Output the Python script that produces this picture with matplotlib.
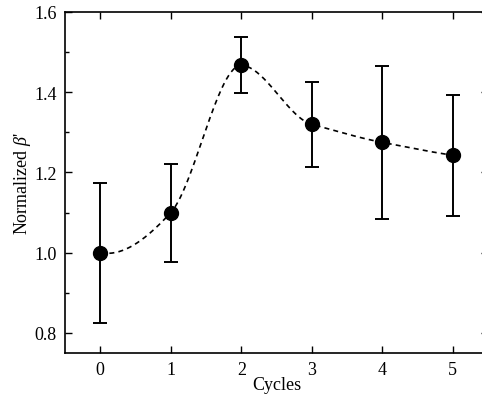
import numpy as np
import matplotlib.pyplot as plt
from matplotlib.ticker import MultipleLocator

plt.rcParams['font.family'] = ['Liberation Serif', 'DejaVu Serif']
plt.rcParams['mathtext.fontset'] = 'custom'
plt.rcParams['mathtext.it'] = 'Liberation Serif:italic'
plt.rcParams['mathtext.rm'] = 'Liberation Serif'

# Normalized beta' versus cycle number
cycles = [0, 1, 2, 3, 4, 5]
beta_norm = [1.0, 1.10, 1.467, 1.32, 1.275, 1.243]
beta_err = [0.175, 0.122, 0.07, 0.106, 0.19, 0.151]


def akima(x, y, xs):
    # Akima curve through the measured points
    x = np.asarray(x, float)
    y = np.asarray(y, float)
    h = np.diff(x)
    m = np.diff(y) / h
    m = np.concatenate([[3 * m[0] - 2 * m[1], 2 * m[0] - m[1]], m,
                        [2 * m[-1] - m[-2], 3 * m[-1] - 2 * m[-2]]])
    dm = np.abs(np.diff(m))
    w1 = dm[2:]
    w2 = dm[:-2]
    t = np.where(w1 + w2 > 1e-12,
                 (w1 * m[1:-2] + w2 * m[2:-1]) / np.where(w1 + w2 > 1e-12, w1 + w2, 1),
                 0.5 * (m[1:-2] + m[2:-1]))
    out = np.empty_like(xs)
    n = len(x)
    mm = m[2:-2]
    for k, xv in enumerate(xs):
        i = min(np.searchsorted(x, xv, side='right') - 1, n - 2)
        dx = xv - x[i]
        c = (3 * mm[i] - 2 * t[i] - t[i + 1]) / h[i]
        d = (t[i] + t[i + 1] - 2 * mm[i]) / h[i] ** 2
        out[k] = y[i] + t[i] * dx + c * dx ** 2 + d * dx ** 3
    return out


xs = np.linspace(cycles[0], cycles[-1], 300)
ys = akima(cycles, beta_norm, xs)

fig = plt.figure(figsize=(4.82, 4.02), dpi=100)
ax = fig.add_axes([65 / 482, 48 / 402, 423 / 482, 341 / 402])

ax.plot(xs, ys, color='black', linestyle=(0, (3, 2.5)), linewidth=1.2)
ax.errorbar(cycles, beta_norm, yerr=beta_err, fmt='o', color='black',
            markersize=10, capsize=5, elinewidth=1.4, capthick=1.4)

ax.set_xlim(-0.5, 5.5)
ax.set_ylim(0.75, 1.6)
ax.xaxis.set_major_locator(MultipleLocator(1))
ax.yaxis.set_major_locator(MultipleLocator(0.2))
ax.yaxis.set_minor_locator(MultipleLocator(0.1))
ax.yaxis.set_major_formatter(plt.FormatStrFormatter('%.1f'))
ax.tick_params(which='both', direction='in', top=True, right=True,
               labelsize=13, width=1)
ax.tick_params(which='major', length=5, pad=6)
ax.tick_params(which='minor', length=3)
for s in ax.spines.values():
    s.set_linewidth(1.2)

ax.set_xlabel('Cycles', fontsize=13, labelpad=-2)
ax.set_ylabel(r"Normalized $\it{\beta}$'", fontsize=13, labelpad=1)

fig.savefig('out.png', dpi=100)
